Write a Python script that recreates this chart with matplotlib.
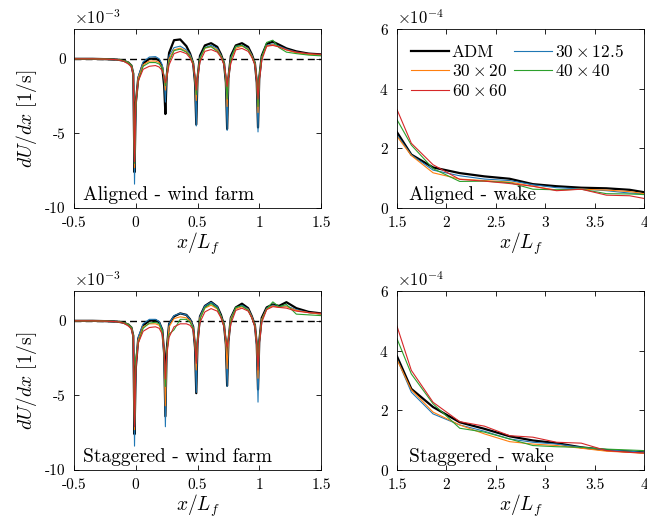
import numpy as np
import matplotlib
matplotlib.use('Agg')
import matplotlib.pyplot as plt

plt.rcParams['font.family'] = 'serif'
plt.rcParams['font.serif'] = ['cmr10']
plt.rcParams['mathtext.fontset'] = 'cm'
plt.rcParams['axes.formatter.use_mathtext'] = True
plt.rcParams['axes.unicode_minus'] = False

labels = ['ADM', r'$30\times20$', r'$60\times60$', r'$30\times12.5$', r'$40\times40$']
colors = ['black', '#ff7f0e', '#d62728', '#1f77b4', '#2ca02c']
widths = [1.6, 0.8, 0.8, 0.8, 0.8]

# x/L_f inside the farm
x_farm = [-0.5, -0.35, -0.25, -0.15, -0.1, -0.06, -0.035, -0.02,
          -0.01, 0.0, 0.02, 0.06, 0.11, 0.16, 0.19, 0.215, 0.23,
          0.24, 0.25, 0.27, 0.31, 0.36, 0.41, 0.44, 0.465, 0.48,
          0.49, 0.50, 0.52, 0.56, 0.61, 0.66, 0.69, 0.715, 0.73,
          0.74, 0.75, 0.77, 0.81, 0.86, 0.91, 0.94, 0.965, 0.98,
          0.99, 1.0, 1.02, 1.06, 1.11, 1.16, 1.22, 1.3, 1.4, 1.5]

# aligned, dU/dx in 1e-3 1/s
al_adm = [0, 0, -0.02, -0.05, -0.12, -0.25, -0.45, -1.0,
          -7.6, -3.0, -1.3, -0.3, 0.0, 0.02, -0.1, -0.6, -1.8,
          -3.7, -1.2, 0.4, 1.25, 1.3, 0.85, 0.35, -0.3, -1.6,
          -4.4, -1.3, 0.2, 0.9, 1.05, 0.8, 0.3, -0.3, -1.6,
          -4.7, -1.3, 0.2, 0.9, 1.05, 0.8, 0.3, -0.3, -1.6,
          -4.6, -1.3, 0.2, 1.0, 1.15, 0.95, 0.7, 0.5, 0.35, 0.3]
al_30x20 = [0, 0, -0.02, -0.05, -0.12, -0.25, -0.45, -1.0,
            -7.3, -3.0, -1.3, -0.4, -0.15, -0.15, -0.25, -0.6, -1.3,
            -2.1, -1.1, 0.0, 0.6, 0.72, 0.5, 0.2, -0.3, -1.4,
            -2.8, -1.2, 0.0, 0.7, 0.82, 0.6, 0.2, -0.3, -1.4,
            -3.2, -1.2, 0.0, 0.7, 0.85, 0.65, 0.2, -0.3, -1.5,
            -3.6, -1.3, 0.1, 0.85, 0.95, 0.8, 0.6, 0.4, 0.3, 0.25]
al_60x60 = [0, 0, -0.02, -0.06, -0.15, -0.35, -0.55, -1.1,
            -6.9, -3.0, -1.5, -0.7, -0.5, -0.45, -0.55, -0.8, -1.2,
            -1.6, -1.3, -0.4, 0.35, 0.5, 0.35, 0.05, -0.4, -1.2,
            -2.1, -1.3, -0.2, 0.5, 0.62, 0.45, 0.1, -0.4, -1.1,
            -1.85, -1.3, -0.3, 0.6, 0.7, 0.5, 0.1, -0.4, -1.4,
            -2.7, -1.5, -0.1, 0.85, 0.9, 0.8, 0.6, 0.45, 0.35, 0.3]
al_30x125 = [0, 0, -0.02, -0.05, -0.12, -0.25, -0.45, -1.0,
             -8.4, -3.2, -1.2, -0.2, 0.12, 0.15, 0.0, -0.4, -1.3,
             -2.9, -1.2, 0.2, 0.75, 0.85, 0.6, 0.3, -0.3, -1.6,
             -4.5, -1.3, 0.1, 0.75, 0.9, 0.7, 0.25, -0.3, -1.6,
             -4.8, -1.3, 0.1, 0.8, 0.9, 0.7, 0.25, -0.3, -1.6,
             -4.9, -1.3, 0.1, 0.9, 1.0, 0.85, 0.65, 0.45, 0.32, 0.25]
al_40x40 = [0, 0, -0.02, -0.05, -0.12, -0.25, -0.45, -1.0,
            -7.0, -3.3, -1.5, -0.5, -0.25, -0.25, -0.35, -0.6, -1.2,
            -1.8, -1.3, -0.2, 0.55, 0.65, 0.45, 0.15, -0.3, -1.3,
            -2.4, -1.2, 0.0, 0.75, 0.82, 0.5, 0.2, -0.3, -1.3,
            -2.7, -1.3, 0.0, 0.85, 0.9, 0.6, 0.15, -0.3, -1.3,
            -3.2, -1.2, 0.1, 1.1, 1.25, 0.75, 0.45, 0.35, 0.25, 0.2]

# staggered, dU/dx in 1e-3 1/s
st_adm = [0, 0, -0.02, -0.05, -0.12, -0.25, -0.45, -1.0,
          -7.6, -3.2, -1.2, -0.3, 0.0, 0.05, -0.1, -0.6, -2.2,
          -6.4, -2.0, -0.2, 0.3, 0.5, 0.4, 0.1, -0.4, -1.8,
          -4.85, -1.5, 0.3, 1.0, 1.27, 0.95, 0.4, -0.3, -1.6,
          -4.35, -1.4, 0.2, 0.9, 1.15, 0.85, 0.3, -0.3, -1.6,
          -4.6, -1.4, 0.2, 0.9, 1.1, 1.0, 1.25, 0.85, 0.6, 0.5]
st_30x20 = [0, 0, -0.02, -0.05, -0.12, -0.25, -0.45, -1.0,
            -7.3, -3.0, -1.3, -0.4, -0.2, -0.2, -0.3, -0.8, -2.2,
            -5.7, -2.2, -0.4, 0.15, 0.27, 0.2, 0.0, -0.5, -1.6,
            -3.3, -1.4, 0.2, 0.85, 1.05, 0.8, 0.3, -0.3, -1.5,
            -3.2, -1.3, 0.15, 0.8, 0.95, 0.75, 0.25, -0.3, -1.6,
            -3.85, -1.4, 0.1, 0.8, 1.0, 0.9, 0.95, 0.7, 0.55, 0.45]
st_60x60 = [0, 0, -0.02, -0.06, -0.15, -0.35, -0.55, -1.1,
            -7.1, -3.2, -1.5, -0.7, -0.45, -0.4, -0.5, -0.9, -2.0,
            -3.9, -2.4, -1.1, -0.4, -0.2, -0.2, -0.3, -0.6, -1.5,
            -2.85, -1.5, -0.1, 0.6, 0.82, 0.65, 0.2, -0.4, -1.2,
            -1.75, -1.3, -0.2, 0.7, 0.85, 0.65, 0.2, -0.4, -1.5,
            -3.3, -1.6, -0.1, 0.75, 0.95, 0.9, 0.85, 0.65, 0.55, 0.5]
st_30x125 = [0, 0, -0.02, -0.05, -0.12, -0.25, -0.45, -1.0,
             -8.4, -3.0, -1.1, -0.2, 0.1, 0.1, -0.05, -0.6, -2.5,
             -7.1, -2.2, -0.2, 0.35, 0.5, 0.4, 0.1, -0.4, -1.8,
             -4.8, -1.5, 0.3, 1.0, 1.25, 0.95, 0.35, -0.3, -1.6,
             -4.4, -1.4, 0.2, 0.85, 1.05, 0.8, 0.3, -0.3, -1.7,
             -5.45, -1.5, 0.1, 0.85, 1.05, 0.95, 1.0, 0.75, 0.55, 0.45]
st_40x40 = [0, 0, -0.02, -0.05, -0.12, -0.25, -0.45, -1.0,
            -7.0, -2.5, -1.5, -0.5, -0.15, -0.1, -0.2, -0.7, -2.0,
            -4.4, -2.2, -0.9, -0.6, 0.1, 0.1, -0.1, -0.5, -1.5,
            -2.7, -1.3, 0.1, 0.9, 1.15, 0.85, 0.3, -0.3, -1.2,
            -1.7, -1.2, 0.0, 0.9, 1.0, 0.7, 0.2, -0.3, -1.4,
            -3.05, -1.4, 0.0, 0.8, 1.27, 0.95, 1.1, 0.45, 0.4, 0.35]

# x/L_f in the wake
x_wake = [1.5, 1.645, 1.865, 2.135, 2.385, 2.64, 2.875, 3.115, 3.365, 3.62, 3.855, 4.0]

# aligned wake, 1e-4 1/s
wa_adm = [2.54, 1.79, 1.36, 1.17, 1.06, 0.98, 0.80, 0.73, 0.68, 0.66, 0.61, 0.53]
wa_30x20 = [2.40, 1.76, 1.18, 0.97, 0.92, 0.87, 0.73, 0.60, 0.63, 0.60, 0.55, 0.48]
wa_60x60 = [3.30, 2.17, 1.45, 0.96, 0.90, 0.82, 0.73, 0.58, 0.63, 0.43, 0.41, 0.32]
wa_30x125 = [2.45, 1.78, 1.27, 1.08, 0.97, 0.92, 0.78, 0.68, 0.64, 0.58, 0.50, 0.48]
wa_40x40 = [2.96, 2.11, 1.32, 0.89, 0.90, 0.85, 0.63, 0.61, 0.63, 0.48, 0.47, 0.45]

# staggered wake, 1e-4 1/s
ws_adm = [3.81, 2.72, 2.11, 1.60, 1.38, 1.13, 0.99, 0.90, 0.76, 0.67, 0.62, 0.59]
ws_30x20 = [3.70, 2.69, 1.94, 1.51, 1.21, 0.95, 0.87, 0.82, 0.73, 0.63, 0.59, 0.56]
ws_60x60 = [4.82, 3.34, 2.27, 1.62, 1.47, 1.15, 1.10, 0.93, 0.90, 0.65, 0.59, 0.57]
ws_30x125 = [3.73, 2.61, 1.88, 1.51, 1.30, 1.04, 0.93, 0.87, 0.76, 0.67, 0.63, 0.59]
ws_40x40 = [4.40, 3.22, 2.22, 1.40, 1.27, 1.04, 0.82, 0.78, 0.76, 0.70, 0.67, 0.65]

W, H = 647, 526
fig = plt.figure(figsize=(W / 100, H / 100), dpi=100)

def make_ax(l, t, r, b):
    ax = fig.add_axes([l / W, 1 - b / H, (r - l) / W, (b - t) / H])
    ax.tick_params(direction='in', top=True, right=True, length=3.5, labelsize=11,
                   width=0.6, pad=6)
    for s in ax.spines.values():
        s.set_linewidth(0.6)
    return ax

def farm_panel(ax, series, name):
    ax.axhline(0, color='black', ls='--', lw=1.0, dashes=(5, 3))
    order = [0, 3, 1, 4, 2]
    for i in order:
        ax.plot(x_farm, series[i], color=colors[i], lw=widths[i], label=labels[i])
    ax.set_xlim(-0.5, 1.5)
    ax.set_ylim(-10, 2)
    ax.set_xticks([-0.5, 0, 0.5, 1, 1.5])
    ax.set_xticklabels(['-0.5', '0', '0.5', '1', '1.5'])
    ax.set_yticks([-10, -5, 0])
    ax.set_yticklabels(['-10', '-5', '0'])
    ax.set_xlabel('$x/L_f$', fontsize=14, labelpad=0)
    ax.set_ylabel('$dU/dx$ [1/s]', fontsize=14, labelpad=4)
    ax.text(0, 1.01, r'$\times10^{-3}$', transform=ax.transAxes, fontsize=12, va='bottom', ha='left')
    ax.text(0.035, 0.025, name, transform=ax.transAxes, fontsize=14, va='bottom', ha='left')

def wake_panel(ax, series, name):
    order = [0, 3, 1, 4, 2]
    for i in order:
        ax.plot(x_wake, series[i], color=colors[i], lw=widths[i], label=labels[i])
    ax.set_xlim(1.5, 4)
    ax.set_ylim(0, 6)
    ax.set_xticks([1.5, 2, 2.5, 3, 3.5, 4])
    ax.set_xticklabels(['1.5', '2', '2.5', '3', '3.5', '4'])
    ax.set_yticks([0, 2, 4, 6])
    ax.set_xlabel('$x/L_f$', fontsize=14, labelpad=0)
    ax.text(0, 1.01, r'$\times10^{-4}$', transform=ax.transAxes, fontsize=12, va='bottom', ha='left')
    ax.text(0.05, 0.025, name, transform=ax.transAxes, fontsize=14, va='bottom', ha='left')

ax1 = make_ax(74, 29, 321, 208)
farm_panel(ax1, [al_adm, al_30x20, al_60x60, al_30x125, al_40x40], 'Aligned - wind farm')

ax2 = make_ax(397, 29, 644, 208)
wake_panel(ax2, [wa_adm, wa_30x20, wa_60x60, wa_30x125, wa_40x40], 'Aligned - wake')
h, l = ax2.get_legend_handles_labels()
hmap = dict(zip(l, h))
ax2.legend([hmap[s] for s in labels], labels, ncol=2, loc='upper left', frameon=False,
           fontsize=12.5, handlelength=2.2, handletextpad=0.15, columnspacing=0.4,
           labelspacing=0.2, borderaxespad=0.5, borderpad=0.3)

ax3 = make_ax(74, 291, 321, 470)
farm_panel(ax3, [st_adm, st_30x20, st_60x60, st_30x125, st_40x40], 'Staggered - wind farm')

ax4 = make_ax(397, 291, 644, 470)
wake_panel(ax4, [ws_adm, ws_30x20, ws_60x60, ws_30x125, ws_40x40], 'Staggered - wake')

fig.savefig('out.png', dpi=100)
